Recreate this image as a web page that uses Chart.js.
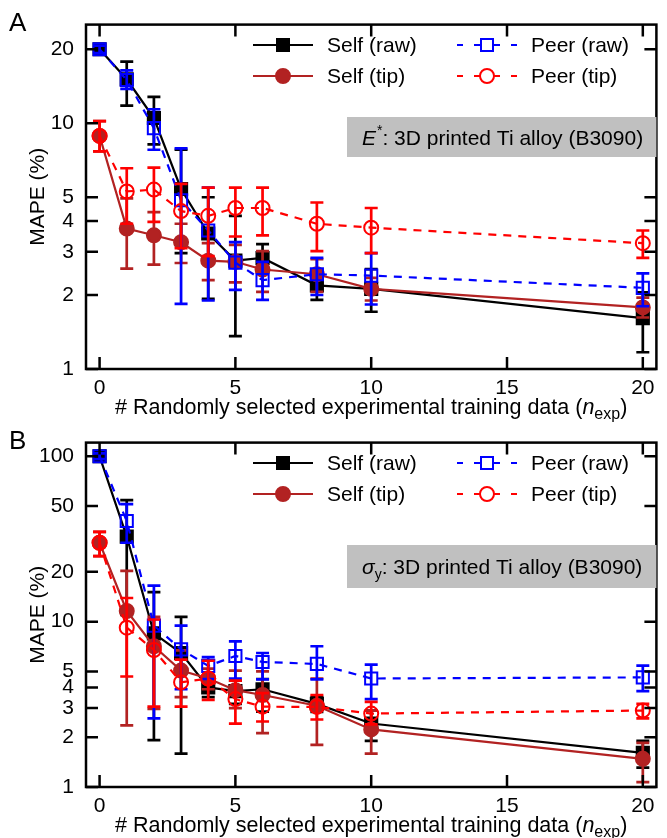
<!DOCTYPE html>
<html>
<head>
<meta charset="utf-8">
<script src="https://cdn.jsdelivr.net/npm/chart.js@4.4.1/dist/chart.umd.min.js"></script>
<style>
  body { margin: 0; background: #fff; }
  canvas { display: block; }
  #chartB { margin-top: -6px; }
</style>
</head>
<body>
<canvas id="chartA" width="667" height="424"></canvas>
<canvas id="chartB" width="667" height="420"></canvas>
<script>
// Number of experimental training points used
const nExp = [0, 1, 2, 3, 4, 5, 6, 8, 10, 20];
const xTicks = [0, 5, 10, 15, 20];

// Panel A: E* MAPE (%)
const selfRawA     = [20, 15.1, 10.5, 5.4, 3.56, 2.76, 2.83, 2.19, 2.12, 1.61];
const selfRawALow  = [19.3, 11.8, 8.2, 2.96, 1.93, 1.36, 2.45, 1.91, 1.71, 1.17];
const selfRawAHigh = [20.7, 17.8, 12.8, 7.8, 5.0, 4.2, 3.22, 2.5, 2.55, 2.05];

const selfTipA     = [8.88, 3.73, 3.5, 3.28, 2.76, 2.73, 2.54, 2.43, 2.12, 1.78];
const selfTipALow  = [7.68, 2.56, 2.66, 2.7, 2.3, 2.25, 2.06, 2.06, 1.9, 1.62];
const selfTipAHigh = [10.2, 4.95, 4.35, 3.9, 3.25, 3.2, 3.02, 2.8, 2.35, 1.95];

const peerRawA     = [20, 15.0, 9.55, 4.86, 3.66, 2.71, 2.3, 2.43, 2.4, 2.14];
const peerRawALow  = [19.3, 13.8, 7.8, 1.84, 1.9, 2.1, 1.91, 2.0, 1.83, 1.8];
const peerRawAHigh = [20.7, 16.4, 11.4, 7.9, 5.47, 3.28, 2.73, 2.83, 2.96, 2.45];

const peerTipA     = [8.88, 5.28, 5.37, 4.39, 4.2, 4.52, 4.52, 3.9, 3.76, 3.25];
const peerTipALow  = [7.68, 3.9, 3.97, 3.1, 2.88, 3.46, 3.5, 3.02, 2.96, 2.83];
const peerTipAHigh = [10.2, 6.56, 6.6, 5.67, 5.47, 5.47, 5.47, 4.76, 4.52, 3.66];

const yTicksA = [1, 2, 3, 4, 5, 10, 20];

// Panel B: sigma_y MAPE (%)
const selfRawB     = [100, 32.7, 8.5, 6.46, 4.0, 3.8, 3.9, 3.18, 2.42, 1.61];
const selfRawBLow  = [96, 11, 1.92, 1.59, 3.5, 3.18, 2.86, 2.85, 1.9, 1.31];
const selfRawBHigh = [104, 54.3, 15.1, 10.7, 4.6, 4.4, 4.5, 3.5, 2.9, 1.9];

const selfTipB     = [30, 11.6, 7.1, 5.06, 4.53, 3.85, 3.6, 3.1, 2.23, 1.48];
const selfTipBLow  = [24.9, 2.36, 2.97, 3.5, 3.9, 3.0, 2.12, 1.8, 1.59, 1.07];
const selfTipBHigh = [34.9, 20.3, 10.7, 6.7, 5.2, 5.06, 5.0, 4.53, 2.9, 1.85];

const peerRawB     = [100, 40.6, 9.46, 6.8, 5.4, 6.2, 5.7, 5.55, 4.53, 4.6];
const peerRawBLow  = [96, 30, 2.6, 3.9, 4.5, 4.53, 4.48, 4.48, 3.4, 3.8];
const peerRawBHigh = [104, 51.4, 16.5, 9.46, 6.1, 7.6, 6.46, 7.1, 5.5, 5.42];

const peerTipB     = [30, 9.2, 6.74, 4.3, 4.53, 3.4, 3.06, 3.05, 2.78, 2.9];
const peerTipBLow  = [24.9, 4.66, 3.06, 3.06, 3.36, 2.42, 2.49, 2.56, 2.39, 2.6];
const peerTipBHigh = [34.9, 13.9, 10.3, 5.9, 5.8, 4.4, 3.7, 3.6, 3.27, 3.18];

const yTicksB = [1, 2, 3, 4, 5, 10, 20, 50, 100];

const FONT = "'Liberation Sans', Arial, Helvetica, sans-serif";
const BLACK = '#000000';
const BROWN = '#b22222';
const BLUE = '#0000ff';
const RED = '#ff0000';

function pts(vals) {
    return nExp.map((x, i) => ({ x: x, y: vals[i] }));
}

// Draw a single marker (used for the legend keys)
function marker(ctx, style, x, y, color, filled) {
    ctx.save();
    ctx.setLineDash([]);
    ctx.lineWidth = 2;
    ctx.strokeStyle = color;
    ctx.fillStyle = color;
    ctx.beginPath();
    if (style === 'rect') {
        ctx.rect(x - 6, y - 6, 12, 12);
    } else {
        ctx.arc(x, y, 7, 0, Math.PI * 2);
    }
    if (filled) ctx.fill(); else { ctx.fillStyle = '#fff'; ctx.fill(); }
    ctx.stroke();
    ctx.restore();
}

// Vertical error bars with caps, drawn under each dataset
const errorBars = {
    id: 'errorBars',
    beforeDatasetDraw(chart, args) {
        const ds = chart.data.datasets[args.index];
        if (!ds.errLow) return;
        const ctx = chart.ctx;
        const yScale = chart.scales.y;
        ctx.save();
        ctx.strokeStyle = ds.borderColor;
        ctx.lineWidth = 2.7;
        ctx.setLineDash([]);
        args.meta.data.forEach((pt, i) => {
            const yLo = yScale.getPixelForValue(ds.errLow[i]);
            const yHi = yScale.getPixelForValue(ds.errHigh[i]);
            ctx.beginPath();
            ctx.moveTo(pt.x, yLo);
            ctx.lineTo(pt.x, yHi);
            ctx.moveTo(pt.x - 6.5, yLo);
            ctx.lineTo(pt.x + 6.5, yLo);
            ctx.moveTo(pt.x - 6.5, yHi);
            ctx.lineTo(pt.x + 6.5, yHi);
            ctx.stroke();
        });
        ctx.restore();
    }
};

// Box frame, inward ticks, axis titles, legend and label box
const decorations = {
    id: 'decorations',
    afterDraw(chart, args, opts) {
        const ctx = chart.ctx;
        const a = chart.chartArea;
        const x = chart.scales.x;
        const y = chart.scales.y;
        ctx.save();

        // frame + ticks on all four sides
        ctx.strokeStyle = '#000';
        ctx.lineWidth = 2.5;
        ctx.strokeRect(a.left, a.top, a.width, a.height);
        ctx.beginPath();
        xTicks.forEach(v => {
            const px = x.getPixelForValue(v);
            ctx.moveTo(px, a.bottom); ctx.lineTo(px, a.bottom - 12);
            ctx.moveTo(px, a.top); ctx.lineTo(px, a.top + 12);
        });
        opts.yTicks.forEach(v => {
            const py = y.getPixelForValue(v);
            ctx.moveTo(a.left, py); ctx.lineTo(a.left + 12, py);
            ctx.moveTo(a.right, py); ctx.lineTo(a.right - 12, py);
        });
        ctx.stroke();

        ctx.fillStyle = '#000';

        // panel letter
        ctx.font = '26px ' + FONT;
        ctx.textAlign = 'left';
        ctx.textBaseline = 'alphabetic';
        ctx.fillText(opts.letter, 9, 31);

        // y title
        ctx.save();
        ctx.translate(44, (a.top + a.bottom) / 2);
        ctx.rotate(-Math.PI / 2);
        ctx.font = '21px ' + FONT;
        ctx.textAlign = 'center';
        ctx.fillText('MAPE (%)', 0, 0);
        ctx.restore();

        // x title with italic n and subscript "exp"
        const main = '# Randomly selected experimental training data (';
        const big = '21.5px ' + FONT;
        ctx.font = big;
        const w1 = ctx.measureText(main).width;
        ctx.font = 'italic ' + big;
        const w2 = ctx.measureText('n').width;
        ctx.font = '16px ' + FONT;
        const w3 = ctx.measureText('exp').width;
        ctx.font = big;
        const w4 = ctx.measureText(')').width;
        let tx = (a.left + a.right) / 2 - (w1 + w2 + w3 + w4) / 2;
        const ty = opts.titleY;
        ctx.fillText(main, tx, ty); tx += w1;
        ctx.font = 'italic ' + big;
        ctx.fillText('n', tx, ty); tx += w2;
        ctx.font = '16px ' + FONT;
        ctx.fillText('exp', tx, ty + 5); tx += w3;
        ctx.font = big;
        ctx.fillText(')', tx, ty);

        // label box
        const box = opts.box;
        ctx.fillStyle = '#c0c0c0';
        ctx.fillRect(box.left, box.top, a.right - box.left, box.bottom - box.top);
        ctx.fillStyle = '#000';
        let bx = box.left + 15;
        const by = (box.top + box.bottom) / 2 + 7.5;
        ctx.font = 'italic 21px ' + FONT;
        ctx.fillText(opts.symbol, bx, by);
        bx += ctx.measureText(opts.symbol).width;
        ctx.font = '14px ' + FONT;
        if (opts.symbolSup) {
            ctx.fillText(opts.symbolSup, bx + 1, by - 10);
            bx += ctx.measureText(opts.symbolSup).width + 1;
        } else {
            ctx.fillText(opts.symbolSub, bx, by + 5);
            bx += ctx.measureText(opts.symbolSub).width;
        }
        ctx.font = '21px ' + FONT;
        ctx.fillText(': 3D printed Ti alloy (B3090)', bx, by);

        // legend: line + marker + label
        const rows = [45, 76];
        const cols = [{ x0: 253, x1: 313, tx: 327 }, { x0: 457, x1: 517, tx: 531 }];
        chart.data.datasets.forEach((ds, i) => {
            const c = cols[Math.floor(i / 2)];
            const ry = rows[i % 2];
            const mx = (c.x0 + c.x1) / 2;
            ctx.save();
            ctx.strokeStyle = ds.borderColor;
            ctx.lineWidth = 2.2;
            ctx.beginPath();
            if (ds.borderDash && ds.borderDash.length) {
                [[c.x0, c.x0 + 6], [mx - 13, mx - 6], [mx + 6, mx + 13], [c.x1 - 6, c.x1]].forEach(s => {
                    ctx.moveTo(s[0], ry); ctx.lineTo(s[1], ry);
                });
            } else {
                ctx.moveTo(c.x0, ry); ctx.lineTo(c.x1, ry);
            }
            ctx.stroke();
            ctx.restore();
            marker(ctx, ds.pointStyle, mx, ry, ds.borderColor, ds.filledMarker);
            ctx.fillStyle = '#000';
            ctx.font = '21px ' + FONT;
            ctx.textBaseline = 'middle';
            ctx.fillText(ds.label, c.tx, ry + 1);
            ctx.textBaseline = 'alphabetic';
        });

        ctx.restore();
    }
};

function series(label, vals, low, high, color, style, filled, dashed, order) {
    return {
        label: label,
        data: pts(vals),
        errLow: low,
        errHigh: high,
        borderColor: color,
        backgroundColor: color,
        borderWidth: 2.2,
        borderDash: dashed ? [8, 7] : [],
        pointStyle: style,
        pointRadius: style === 'rect' ? 8.6 : 7,
        pointBorderWidth: 2,
        pointBackgroundColor: filled ? color : 'rgba(0,0,0,0)',
        pointBorderColor: color,
        filledMarker: filled,
        tension: 0,
        order: order
    };
}

function makePanel(id, height, datasets, yMax, yTicks, extra) {
    const ctx = document.getElementById(id).getContext('2d');
    return new Chart(ctx, {
        type: 'line',
        data: { datasets: datasets },
        options: {
            responsive: false,
            animation: false,
            layout: { padding: { top: extra.top, right: 6, left: 0, bottom: 0 } },
            plugins: {
                legend: { display: false },
                tooltip: { enabled: false },
                decorations: Object.assign({ yTicks: yTicks }, extra)
            },
            scales: {
                x: {
                    type: 'linear',
                    min: -0.5,
                    max: 20.5,
                    grid: { display: false, drawTicks: false },
                    border: { display: false },
                    afterBuildTicks: s => { s.ticks = xTicks.map(v => ({ value: v })); },
                    ticks: {
                        autoSkip: false,
                        maxRotation: 0,
                        padding: 7,
                        color: '#000',
                        font: { family: FONT, size: 21 }
                    },
                    afterFit: s => { s.height = height - 369; }
                },
                y: {
                    type: 'logarithmic',
                    min: 1,
                    max: yMax,
                    grid: { display: false, drawTicks: false },
                    border: { display: false },
                    afterBuildTicks: s => { s.ticks = yTicks.map(v => ({ value: v })); },
                    ticks: {
                        autoSkip: false,
                        padding: 12,
                        color: '#000',
                        font: { family: FONT, size: 21 },
                        callback: v => String(v)
                    },
                    afterFit: s => { s.width = 86; }
                }
            }
        },
        plugins: [errorBars, decorations]
    });
}

makePanel('chartA', 424, [
    series('Self (raw)', selfRawA, selfRawALow, selfRawAHigh, BLACK, 'rect', true, false, 4),
    series('Self (tip)', selfTipA, selfTipALow, selfTipAHigh, BROWN, 'circle', true, false, 3),
    series('Peer (raw)', peerRawA, peerRawALow, peerRawAHigh, BLUE, 'rect', false, true, 2),
    series('Peer (tip)', peerTipA, peerTipALow, peerTipAHigh, RED, 'circle', false, true, 1)
], 25.2, yTicksA, {
    top: 16, letter: 'A', titleY: 414,
    box: { left: 347, top: 117, bottom: 157 },
    symbol: 'E', symbolSup: '*'
});

makePanel('chartB', 420, [
    series('Self (raw)', selfRawB, selfRawBLow, selfRawBHigh, BLACK, 'rect', true, false, 4),
    series('Self (tip)', selfTipB, selfTipBLow, selfTipBHigh, BROWN, 'circle', true, false, 3),
    series('Peer (raw)', peerRawB, peerRawBLow, peerRawBHigh, BLUE, 'rect', false, true, 2),
    series('Peer (tip)', peerTipB, peerTipBLow, peerTipBHigh, RED, 'circle', false, true, 1)
], 121, yTicksB, {
    top: 17, letter: 'B', titleY: 414,
    box: { left: 347, top: 127, bottom: 170 },
    symbol: 'σ', symbolSub: 'y'
});
</script>
</body>
</html>
